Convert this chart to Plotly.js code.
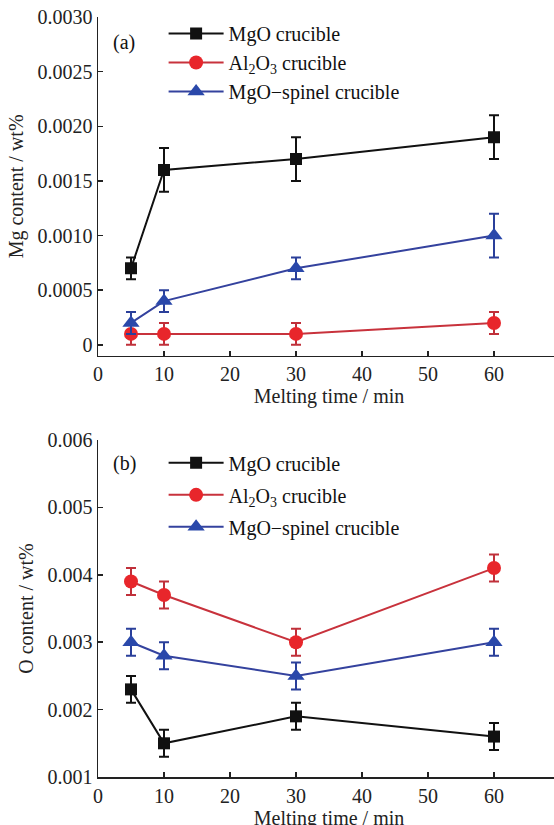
<!DOCTYPE html>
<html>
<head>
<meta charset="utf-8">
<script src="https://cdn.plot.ly/plotly-3.0.1.min.js"></script>
<style>
html,body{margin:0;padding:0;overflow:hidden;background:#fff;}
#chart{width:570px;height:830px;}
</style>
</head>
<body>
<div id="chart"></div>
<script>
// ---- data ----
const time = [5, 10, 30, 60];
const seriesNames = ['MgO crucible', 'Al<sub>2</sub>O<sub>3</sub> crucible', 'MgO\u2212spinel crucible'];

const mgMgO = [0.0007, 0.0016, 0.0017, 0.0019];
const mgMgOErr = [0.0001, 0.0002, 0.0002, 0.0002];
const mgAl2O3 = [0.0001, 0.0001, 0.0001, 0.0002];
const mgAl2O3Err = [0.0001, 0.0001, 0.0001, 0.0001];
const mgSpinel = [0.0002, 0.0004, 0.0007, 0.0010];
const mgSpinelErr = [0.0001, 0.0001, 0.0001, 0.0002];

const oMgO = [0.0023, 0.0015, 0.0019, 0.0016];
const oMgOErr = [0.0002, 0.0002, 0.0002, 0.0002];
const oAl2O3 = [0.0039, 0.0037, 0.0030, 0.0041];
const oAl2O3Err = [0.0002, 0.0002, 0.0002, 0.0002];
const oSpinel = [0.0030, 0.0028, 0.0025, 0.0030];
const oSpinelErr = [0.0002, 0.0002, 0.0002, 0.0002];

const xTicks = [0, 10, 20, 30, 40, 50, 60];
const mgTickVals = [0, 0.0005, 0.0010, 0.0015, 0.0020, 0.0025, 0.0030];
const mgTickText = ['0', '0.0005', '0.0010', '0.0015', '0.0020', '0.0025', '0.0030'];
const oTickVals = [0.001, 0.002, 0.003, 0.004, 0.005, 0.006];
const oTickText = ['0.001', '0.002', '0.003', '0.004', '0.005', '0.006'];

// ---- styles ----
const styles = [
  {line: '#111111', marker: '#111111', err: '#111111', symbol: 'square', size: 12},
  {line: '#c8323c', marker: '#e8262b', err: '#c0303a', symbol: 'circle', size: 14},
  {line: '#34429e', marker: '#2a48aa', err: '#2a3f9a', symbol: 'triangle-up', size: 15}
];
const FONT = '"Liberation Serif", serif';

function mk(y, err, i, xa, ya, leg) {
  const s = styles[i];
  return {
    x: time, y: y, type: 'scatter', mode: 'lines+markers',
    name: seriesNames[i], xaxis: xa, yaxis: ya, legend: leg,
    legendgroup: leg + i,
    line: {color: s.line, width: 2},
    marker: {symbol: s.symbol, size: s.size, color: s.marker, line: {width: 0}},
    error_y: {type: 'data', array: err, visible: true, color: s.err, thickness: 2, width: 5}
  };
}

const data = [
  mk(mgMgO, mgMgOErr, 0, 'x', 'y', 'legend'),
  mk(mgAl2O3, mgAl2O3Err, 1, 'x', 'y', 'legend'),
  mk(mgSpinel, mgSpinelErr, 2, 'x', 'y', 'legend'),
  mk(oMgO, oMgOErr, 0, 'x2', 'y2', 'legend2'),
  mk(oAl2O3, oAl2O3Err, 1, 'x2', 'y2', 'legend2'),
  mk(oSpinel, oSpinelErr, 2, 'x2', 'y2', 'legend2')
];

const axisCommon = {
  showline: true, linecolor: '#222', linewidth: 1.5,
  ticks: 'inside', ticklen: 5, tickwidth: 1.5, tickcolor: '#222',
  showgrid: false, zeroline: false, mirror: false,
  tickfont: {family: FONT, size: 20, color: '#222'},
  fixedrange: true
};

const layout = {
  width: 570, height: 830,
  margin: {l: 98, r: 10, t: 17, b: 53},
  paper_bgcolor: '#fff', plot_bgcolor: '#fff',
  font: {family: FONT, color: '#222'},
  showlegend: true,
  xaxis: Object.assign({}, axisCommon, {
    domain: [0, 1], anchor: 'y', range: [0, 70], tickvals: xTicks,
    title: {text: 'Melting time / min', font: {family: FONT, size: 20, color: '#222'}, standoff: 4}
  }),
  yaxis: Object.assign({}, axisCommon, {
    domain: [0.5543, 1], anchor: 'x', range: [-0.0001, 0.0030],
    tickvals: mgTickVals, ticktext: mgTickText,
    title: {text: 'Mg content / wt%', font: {family: FONT, size: 20, color: '#222'}, standoff: 8}
  }),
  xaxis2: Object.assign({}, axisCommon, {
    domain: [0, 1], anchor: 'y2', range: [0, 70], tickvals: xTicks,
    title: {text: 'Melting time / min', font: {family: FONT, size: 20, color: '#222'}, standoff: 4}
  }),
  yaxis2: Object.assign({}, axisCommon, {
    domain: [0, 0.4434], anchor: 'x2', range: [0.001, 0.006],
    tickvals: oTickVals, ticktext: oTickText,
    title: {text: 'O content / wt%', font: {family: FONT, size: 20, color: '#222'}, standoff: 8}
  }),
  legend: {
    x: 0.142, y: 1.004, xanchor: 'left', yanchor: 'top',
    bgcolor: 'rgba(0,0,0,0)', font: {family: FONT, size: 20, color: '#111'},
    tracegroupgap: 0, itemwidth: 55
  },
  legend2: {
    x: 0.142, y: 0.439, xanchor: 'left', yanchor: 'top',
    bgcolor: 'rgba(0,0,0,0)', font: {family: FONT, size: 20, color: '#111'},
    tracegroupgap: 3, itemwidth: 55
  },
  annotations: [
    {text: '(a)', xref: 'x domain', yref: 'y domain', x: 0.028, y: 0.926, xanchor: 'left', yanchor: 'middle', showarrow: false, font: {family: FONT, size: 20, color: '#111'}},
    {text: '(b)', xref: 'x2 domain', yref: 'y2 domain', x: 0.028, y: 0.929, xanchor: 'left', yanchor: 'middle', showarrow: false, font: {family: FONT, size: 20, color: '#111'}}
  ]
};

Plotly.newPlot('chart', data, layout, {displayModeBar: false, staticPlot: true});
</script>
</body>
</html>
